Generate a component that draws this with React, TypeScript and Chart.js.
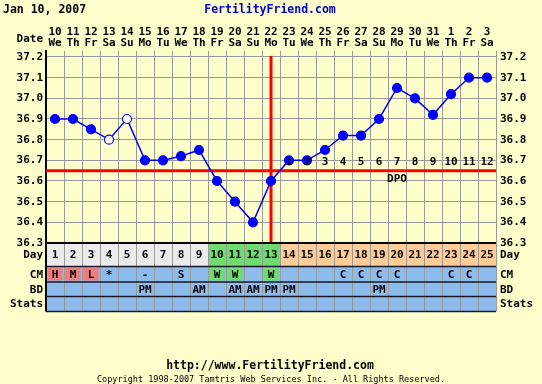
import React, { useEffect, useRef } from "react";
import { Chart, registerables } from "chart.js";
Chart.register(...registerables);

const MONO = "'DejaVu Sans Mono', 'Liberation Mono', monospace";

const chartDate = "Jan 10, 2007";
const siteName = "FertilityFriend.com";
const siteUrl = "http://www.FertilityFriend.com";
const copyright = "Copyright 1998-2007 Tamtris Web Services Inc. - All Rights Reserved.";

const dates = ["10", "11", "12", "13", "14", "15", "16", "17", "18", "19", "20", "21", "22", "23", "24", "25", "26", "27", "28", "29", "30", "31", "1", "2", "3"];
const weekdays = ["We", "Th", "Fr", "Sa", "Su", "Mo", "Tu", "We", "Th", "Fr", "Sa", "Su", "Mo", "Tu", "We", "Th", "Fr", "Sa", "Su", "Mo", "Tu", "We", "Th", "Fr", "Sa"];
const cycleDays = ["1", "2", "3", "4", "5", "6", "7", "8", "9", "10", "11", "12", "13", "14", "15", "16", "17", "18", "19", "20", "21", "22", "23", "24", "25"];
const temps = [36.9, 36.9, 36.85, 36.8, 36.9, 36.7, 36.7, 36.72, 36.75, 36.6, 36.5, 36.4, 36.6, 36.7, 36.7, 36.75, 36.82, 36.82, 36.9, 37.05, 37.0, 36.92, 37.02, 37.1, 37.1];
const openTemps = [false, false, false, true, true, false, false, false, false, false, false, false, false, false, false, false, false, false, false, false, false, false, false, false, false];
const yTicks = [36.3, 36.4, 36.5, 36.6, 36.7, 36.8, 36.9, 37.0, 37.1, 37.2];
const phases = ["pre", "pre", "pre", "pre", "pre", "pre", "pre", "pre", "pre", "fertile", "fertile", "fertile", "fertile", "post", "post", "post", "post", "post", "post", "post", "post", "post", "post", "post", "post"];
const cm = ["H", "M", "L", "*", "", "-", "", "S", "", "W", "W", "", "W", "", "", "", "C", "C", "C", "C", "", "", "C", "C", ""];
const cmKind = ["flow", "flow", "flow", "", "", "", "", "", "", "egg", "egg", "", "egg", "", "", "", "", "", "", "", "", "", "", "", ""];
const bd = ["", "", "", "", "", "PM", "", "", "AM", "", "AM", "AM", "PM", "PM", "", "", "", "", "PM", "", "", "", "", "", ""];
const stats = ["", "", "", "", "", "", "", "", "", "", "", "", "", "", "", "", "", "", "", "", "", "", "", "", ""];
const dpo = ["", "", "", "", "", "", "", "", "", "", "", "", "", "1", "2", "3", "4", "5", "6", "7", "8", "9", "10", "11", "12"];
const coverline = 36.65;
const ovulationIndex = 12;
const rowLabels = ["Day", "CM", "BD", "Stats"];

const BG = "#FFFFCC";
const GRID = "#999999";
const BLUE_ROW = "#8DBBEC";
const phaseColor: Record<string, string> = { pre: "#EBEBEB", fertile: "#6EDC6E", post: "#FFCB96" };
const cmColor: Record<string, string> = { flow: "#EE7C7C", egg: "#6EDC6E" };

const ffPlugin = {
  id: "ffPlugin",
  beforeDraw(chart: any) {
    const ctx = chart.ctx;
    ctx.save();
    ctx.fillStyle = BG;
    ctx.fillRect(0, 0, chart.width, chart.height);
    ctx.restore();
  },
  beforeDatasetsDraw(chart: any) {
    const ctx = chart.ctx;
    const xs = chart.scales.x;
    const ys = chart.scales.y;
    const area = chart.chartArea;
    ctx.save();
    ctx.strokeStyle = "#FF0000";
    ctx.lineWidth = 3;
    const cy = ys.getPixelForValue(coverline);
    ctx.beginPath();
    ctx.moveTo(area.left, cy);
    ctx.lineTo(area.right, cy);
    ctx.stroke();
    const ox = xs.getPixelForValue(ovulationIndex);
    ctx.beginPath();
    ctx.moveTo(ox, ys.getPixelForValue(37.2) - 1);
    ctx.lineTo(ox, area.bottom);
    ctx.stroke();
    ctx.restore();
  },
  afterDatasetsDraw(chart: any) {
    const ctx = chart.ctx;
    const xs = chart.scales.x;
    const ys = chart.scales.y;
    const cy = ys.getPixelForValue(coverline);
    ctx.save();
    ctx.fillStyle = "#000";
    ctx.font = `bold 11px ${MONO}`;
    ctx.textAlign = "center";
    ctx.textBaseline = "middle";
    dpo.forEach((d, i) => {
      if (d) ctx.fillText(d, xs.getPixelForValue(i), cy - 9);
    });
    ctx.fillText("DPO", xs.getPixelForValue(19), cy + 8);
    ctx.restore();
  },
  afterDraw(chart: any) {
    const ctx = chart.ctx;
    const xs = chart.scales.x;
    const area = chart.chartArea;
    const w = xs.width / cycleDays.length;
    const b = area.bottom;
    const rows = [
      [b, b + 23.5],
      [b + 23.5, b + 39],
      [b + 39, b + 53.5],
      [b + 53.5, b + 68.5],
    ];
    ctx.save();
    // fills
    cycleDays.forEach((d, i) => {
      const x0 = xs.getPixelForValue(i) - w / 2;
      ctx.fillStyle = phaseColor[phases[i]];
      ctx.fillRect(x0, rows[0][0], w, rows[0][1] - rows[0][0]);
    });
    ctx.fillStyle = BLUE_ROW;
    ctx.fillRect(area.left, rows[1][0], area.right - area.left, rows[3][1] - rows[1][0]);
    cm.forEach((c, i) => {
      if (cmKind[i]) {
        const x0 = xs.getPixelForValue(i) - w / 2;
        ctx.fillStyle = cmColor[cmKind[i]];
        ctx.fillRect(x0 + 1.5, rows[1][0] + 1.5, w - 3, rows[1][1] - rows[1][0] - 3);
      }
    });
    // vertical separators
    ctx.strokeStyle = GRID;
    ctx.lineWidth = 1;
    for (let i = 0; i <= cycleDays.length; i++) {
      const x = Math.round(area.left + i * w) + 0.5;
      ctx.beginPath();
      ctx.moveTo(x, rows[0][0]);
      ctx.lineTo(x, rows[3][1]);
      ctx.stroke();
    }
    // horizontal lines
    ctx.strokeStyle = "#1A1A2A";
    ctx.lineWidth = 1.5;
    [rows[1][0], rows[2][0], rows[3][0], rows[3][1]].forEach((y) => {
      ctx.beginPath();
      ctx.moveTo(area.left, y);
      ctx.lineTo(area.right, y);
      ctx.stroke();
    });
    ctx.strokeStyle = "#000";
    ctx.lineWidth = 2;
    ctx.beginPath();
    ctx.moveTo(area.left - 1, rows[0][0]);
    ctx.lineTo(area.right, rows[0][0]);
    ctx.stroke();
    ctx.beginPath();
    ctx.moveTo(area.left, rows[0][0]);
    ctx.lineTo(area.left, rows[3][1]);
    ctx.stroke();
    // red line continues into day row top region handled by dataset draw
    // texts
    ctx.fillStyle = "#000";
    ctx.font = `bold 11px ${MONO}`;
    ctx.textAlign = "center";
    ctx.textBaseline = "middle";
    const rowData = [cycleDays, cm, bd, stats];
    rowData.forEach((arr, r) => {
      const yc = (rows[r][0] + rows[r][1]) / 2 + 0.5;
      arr.forEach((t, i) => {
        if (t) ctx.fillText(t, xs.getPixelForValue(i), yc);
      });
    });
    // row labels
    rowLabels.forEach((lab, r) => {
      const yc = (rows[r][0] + rows[r][1]) / 2 + 0.5;
      ctx.textAlign = "right";
      ctx.fillText(lab, area.left - 3, yc);
      ctx.textAlign = "left";
      ctx.fillText(lab, area.right + 4, yc);
    });
    // Date label
    ctx.textAlign = "right";
    ctx.fillText("Date", area.left - 3, 39);
    // header
    ctx.textAlign = "left";
    ctx.font = `bold 11.5px ${MONO}`;
    ctx.fillText(chartDate, 3, 10.5);
    ctx.textAlign = "center";
    ctx.fillStyle = "#0000CC";
    ctx.fillText(siteName, 270, 10.5);
    // footer
    ctx.fillStyle = "#000";
    ctx.font = `bold 11.5px ${MONO}`;
    ctx.fillText(siteUrl, 270, 366.5);
    ctx.font = `8.5px ${MONO}`;
    ctx.fillText(copyright, 271, 379.5);
    ctx.restore();
  },
};

export default function App() {
  const ref = useRef<HTMLCanvasElement | null>(null);
  useEffect(() => {
    if (!ref.current) return;
    const tickFont = { family: MONO, size: 11, weight: "bold" as const, lineHeight: 1 };
    const setTicks = (s: any) => {
      s.ticks = yTicks.map((v) => ({ value: v }));
    };
    const chart = new Chart(ref.current, {
      type: "line",
      data: {
        labels: cycleDays,
        datasets: [
          {
            data: temps,
            borderColor: "#0000FF",
            borderWidth: 1.5,
            pointRadius: 4.5,
            pointBorderWidth: 1.2,
            pointBorderColor: "#0000FF",
            pointBackgroundColor: temps.map((_, i) => (openTemps[i] ? "#FFFFFF" : "#0000FF")),
            tension: 0,
            yAxisID: "y",
          },
        ],
      },
      options: {
        responsive: false,
        animation: false,
        devicePixelRatio: 1,
        layout: { padding: { top: 0, left: 0, right: 0, bottom: 141 } },
        plugins: { legend: { display: false }, tooltip: { enabled: false }, title: { display: false } },
        scales: {
          x: {
            type: "category",
            position: "top",
            offset: true,
            grid: { offset: true, color: GRID, lineWidth: 1, drawTicks: false },
            border: { display: false },
            ticks: {
              autoSkip: false,
              maxRotation: 0,
              minRotation: 0,
              padding: 2,
              color: "#000",
              font: tickFont,
              callback: (_v: any, i: number) => [dates[i], weekdays[i]],
            },
            afterFit: (s: any) => {
              s.height = 51;
            },
          },
          y: {
            position: "left",
            min: 36.3,
            max: 37.229,
            grid: { color: GRID, lineWidth: 1, drawTicks: false },
            border: { color: "#000", width: 2 },
            ticks: { padding: 3, color: "#000", font: tickFont, callback: (v: any) => Number(v).toFixed(1) },
            afterBuildTicks: setTicks,
            afterFit: (s: any) => {
              s.width = 46;
            },
          },
          y2: {
            position: "right",
            min: 36.3,
            max: 37.229,
            grid: { display: false, drawTicks: false },
            border: { display: false },
            ticks: { padding: 4, color: "#000", font: tickFont, callback: (v: any) => Number(v).toFixed(1) },
            afterBuildTicks: setTicks,
            afterFit: (s: any) => {
              s.width = 46;
            },
          },
        },
      },
      plugins: [ffPlugin],
    });
    return () => chart.destroy();
  }, []);
  return (
    <div style={{ position: "absolute", left: 0, top: 0, width: 542, height: 384, background: BG }}>
      <canvas ref={ref} width={542} height={384} style={{ display: "block" }} />
    </div>
  );
}
